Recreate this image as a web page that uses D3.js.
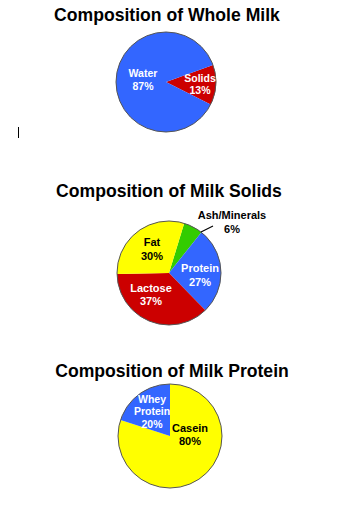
<!DOCTYPE html>
<html><head><meta charset="utf-8">
<script src="https://cdn.jsdelivr.net/npm/d3@7"></script>
<style>html,body{margin:0;padding:0;background:#fff;}svg{display:block;}</style>
</head><body>
<script>
// Data
const titles = ["Composition of Whole Milk", "Composition of Milk Solids", "Composition of Milk Protein"];
const wholeMilkCategories = ["Solids", "Water"];
const wholeMilkValues = [13, 87];
const solidsCategories = ["Ash/Minerals", "Protein", "Lactose", "Fat"];
const solidsValues = [6, 27, 37, 30];
const proteinCategories = ["Casein", "Whey Protein"];
const proteinValues = [80, 20];

const W = 351, H = 505;
const svg = d3.select("body").append("svg").attr("width", W).attr("height", H);
const font = "Liberation Sans, Arial, Helvetica, sans-serif";
const deg = Math.PI / 180;

const colorMap = {
  "Water": "#3366ff", "Solids": "#cc0000",
  "Ash/Minerals": "#33cc00", "Protein": "#3366ff", "Lactose": "#cc0000", "Fat": "#ffff00",
  "Casein": "#ffff00", "Whey Protein": "#3366ff"
};

function drawPie(cfg) {
  const data = cfg.cats.map((c, i) => ({cat: c, value: cfg.vals[i]}));
  const pie = d3.pie().value(d => d.value).sort(null)
    .startAngle(cfg.start * deg).endAngle(cfg.start * deg + 2 * Math.PI);
  const arc = d3.arc().innerRadius(0).outerRadius(cfg.r);
  const g = svg.append("g").attr("transform", `translate(${cfg.cx},${cfg.cy})`);
  g.selectAll("path").data(pie(data)).join("path")
    .attr("d", arc).attr("fill", d => colorMap[d.data.cat]);
  g.append("circle").attr("r", cfg.r).attr("fill", "none")
    .attr("stroke", "#555").attr("stroke-width", 1);
  svg.append("text").attr("x", cfg.tx).attr("y", cfg.ty)
    .attr("text-anchor", "middle").attr("font-family", font)
    .attr("font-weight", "bold").attr("font-size", 17.6).attr("fill", "#000")
    .text(cfg.title);
  data.forEach((d, i) => {
    const L = cfg.labels[i];
    if (L.line) {
      svg.append("line").attr("x1", L.line[0]).attr("y1", L.line[1])
        .attr("x2", L.line[2]).attr("y2", L.line[3])
        .attr("stroke", "#000").attr("stroke-width", 1.2);
    }
    const lines = L.text || [d.cat, d.value + "%"];
    const t = svg.append("text").attr("text-anchor", "middle")
      .attr("font-family", font).attr("font-weight", "bold")
      .attr("font-size", L.fs || 10.5).attr("fill", L.color);
    lines.forEach((s, k) => {
      t.append("tspan").attr("x", L.x).attr("y", L.y + k * (L.dy || 13)).text(s);
    });
  });
}

drawPie({
  title: titles[0], tx: 167, ty: 21, cx: 166, cy: 82, r: 50, start: 70,
  cats: wholeMilkCategories, vals: wholeMilkValues,
  labels: [
    {x: 200, y: 82, color: "#fff", dy: 11.5},
    {x: 143, y: 77, color: "#fff", dy: 12.5}
  ]
});

drawPie({
  title: titles[1], tx: 169, ty: 197, cx: 169, cy: 273, r: 52, start: 17,
  cats: solidsCategories, vals: solidsValues,
  labels: [
    {x: 232, y: 219, color: "#000", dy: 14, fs: 11, line: [201, 232, 213, 226]},
    {x: 200, y: 272, color: "#fff", dy: 14, fs: 11},
    {x: 151, y: 292, color: "#fff", dy: 13, fs: 11},
    {x: 152, y: 246, color: "#000", dy: 14, fs: 11}
  ]
});

drawPie({
  title: titles[2], tx: 172, ty: 377, cx: 170, cy: 436, r: 52, start: 0,
  cats: proteinCategories, vals: proteinValues,
  labels: [
    {x: 190, y: 432, color: "#000", dy: 13, fs: 11},
    {x: 152, y: 403, color: "#fff", dy: 12.3, text: ["Whey", "Protein", "20%"]}
  ]
});

// small vertical mark
svg.append("line").attr("x1", 18.5).attr("x2", 18.5).attr("y1", 127).attr("y2", 138)
  .attr("stroke", "#000").attr("stroke-width", 1);
</script>
</body></html>
